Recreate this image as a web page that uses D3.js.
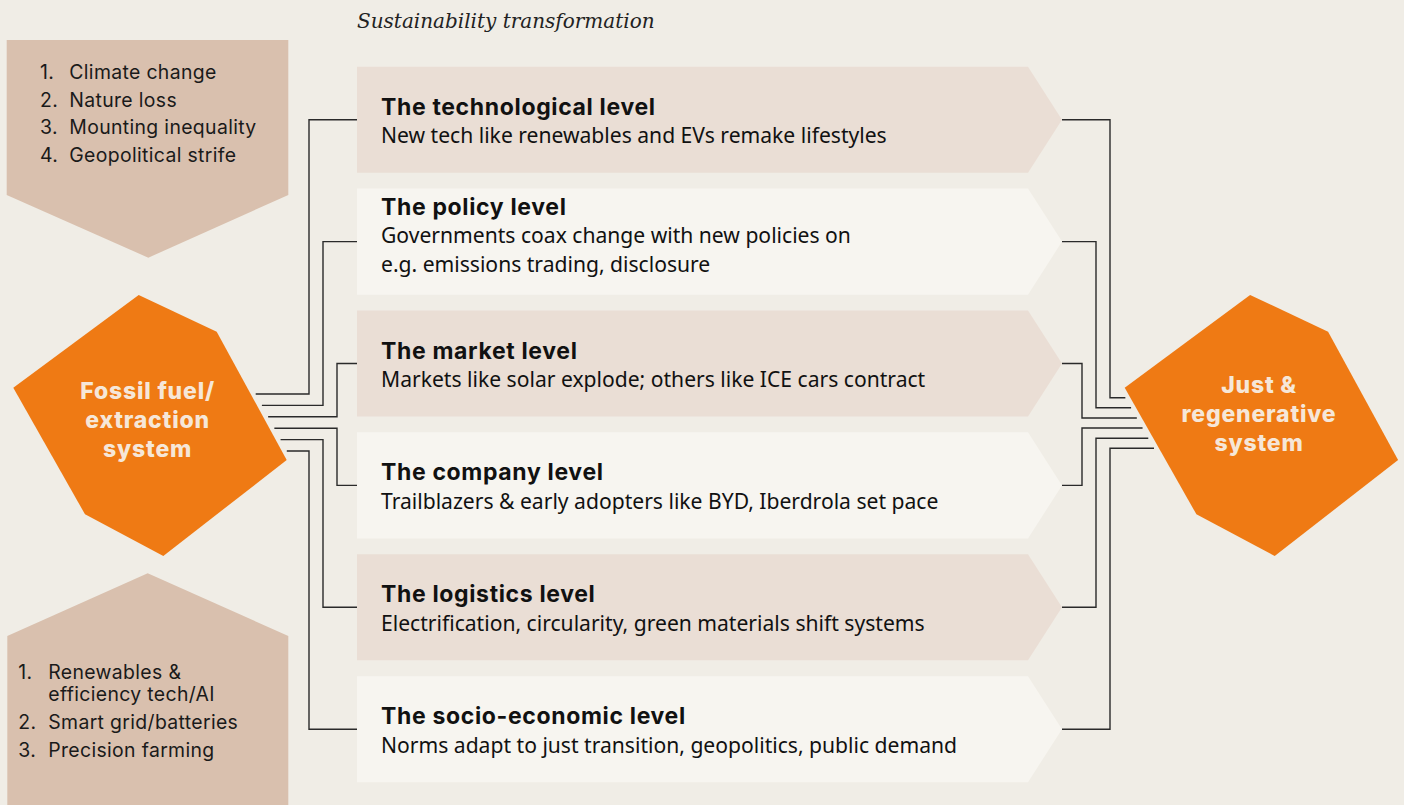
<!DOCTYPE html>
<html>
<head>
<meta charset="utf-8">
<script src="https://cdn.jsdelivr.net/npm/d3@7"></script>
<style>
  body { margin: 0; background: #f0ede6; }
  svg { display: block; }
  .lvl-title { font-family: Inter, "Noto Sans", sans-serif; font-weight: 700; font-size: 23px; letter-spacing: 0.65px; fill: #111; }
  .lvl-desc { font-family: "Noto Sans", sans-serif; font-size: 21.1px; fill: #111; }
  .list { font-family: Inter, "Noto Sans", sans-serif; font-size: 19.4px; letter-spacing: 0.35px; fill: #1a1a1a; }
  .hex-label { font-family: Inter, "Noto Sans", sans-serif; font-weight: 800; font-size: 23px; letter-spacing: 0.8px; fill: #f6e7d8; }
  .header { font-family: "DejaVu Serif", serif; font-style: italic; font-size: 20px; fill: #222; }
  .link { fill: none; stroke: #2a2a2a; stroke-width: 1.4; }
</style>
</head>
<body>
<svg id="chart"></svg>
<script>
// Levels of the transformation, top to bottom
const levels = [
  'The technological level',
  'The policy level',
  'The market level',
  'The company level',
  'The logistics level',
  'The socio-economic level'
];
const descriptions = [
  ['New tech like renewables and EVs remake lifestyles'],
  ['Governments coax change with new policies on', 'e.g. emissions trading, disclosure'],
  ['Markets like solar explode; others like ICE cars contract'],
  ['Trailblazers & early adopters like BYD, Iberdrola set pace'],
  ['Electrification, circularity, green materials shift systems'],
  ['Norms adapt to just transition, geopolitics, public demand']
];
// Pressures (top box) and enablers (bottom box)
const pressures = ['Climate change', 'Nature loss', 'Mounting inequality', 'Geopolitical strife'];
const enablers = [['Renewables &', 'efficiency tech/AI'], ['Smart grid/batteries'], ['Precision farming']];
const sourceLabel = ['Fossil fuel/', 'extraction', 'system'];
const targetLabel = ['Just &', 'regenerative', 'system'];
const headerText = 'Sustainability transformation';

const width = 1404, height = 805;
const colors = { bg: '#f0ede6', rowA: '#eaded5', rowB: '#f7f5f0', box: '#d9c0ae', orange: '#ef7a14' };

const svg = d3.select('#chart').attr('width', width).attr('height', height);
svg.append('rect').attr('width', width).attr('height', height).attr('fill', colors.bg);

// Row layout
const rowLeft = 357, rowBody = 1028, rowTip = 1062;
const y = d3.scaleBand().domain(levels).range([66.7, 782.2]).paddingInner(0.13).paddingOuter(0);
const mid = d => y(d) + y.bandwidth() / 2;

// Hexagon shape (offsets from center)
const hexPts = [[-11.9, -129.1], [66.1, -92.4], [136.1, 35.9], [12.7, 131.9], [-65.6, 90.2], [-137.3, -36.4]];
const src = { x: 150.6, y: 424.1 }, dst = { x: 1262, y: 424.1 };

// Ports where the connectors meet the hexagons
const portL = d3.scalePoint().domain(levels).range([394, 451]);
const portR = d3.scalePoint().domain(levels).range([397.7, 448.3]);
const rank = i => (i < 3 ? i : 5 - i);
const xL = i => 309 + rank(i) * 14;
const xR = i => 1110 - rank(i) * 14;
function edgeX(c, a, b, yy) {
  const p = [c.x + hexPts[a][0], c.y + hexPts[a][1]], q = [c.x + hexPts[b][0], c.y + hexPts[b][1]];
  return p[0] + (yy - p[1]) * (q[0] - p[0]) / (q[1] - p[1]);
}

// Header
svg.append('text').attr('class', 'header').attr('x', rowLeft).attr('y', 28).text(headerText);

// Top box (pointing down) and bottom box (pointing up)
svg.append('path').attr('fill', colors.box)
  .attr('d', d3.line()([[6.7, 40], [288.3, 40], [288.3, 195], [148.3, 257.7], [6.7, 195]]) + 'Z');
svg.append('path').attr('fill', colors.box)
  .attr('d', d3.line()([[147.7, 573.3], [288.3, 636], [288.3, 806], [7.3, 806], [7.3, 636]]) + 'Z');

const pList = svg.append('g').attr('class', 'list');
pressures.forEach((t, i) => {
  pList.append('text').attr('x', 40).attr('y', 79.3 + i * 27.4).text(`${i + 1}.`);
  pList.append('text').attr('x', 69.3).attr('y', 79.3 + i * 27.4).text(t);
});
const eList = svg.append('g').attr('class', 'list');
let ey = 679;
enablers.forEach((lines, i) => {
  eList.append('text').attr('x', 18.3).attr('y', ey).text(`${i + 1}.`);
  lines.forEach((t, j) => {
    eList.append('text').attr('x', 48.3).attr('y', ey + j * 21.7).text(t);
  });
  ey += (lines.length - 1) * 21.7 + 28;
});

// Connectors
const links = svg.append('g');
levels.forEach((d, i) => {
  const pl = portL(d), pr = portR(d), c = mid(d);
  const sx = edgeX(src, 1, 2, pl) + 5;
  links.append('path').attr('class', 'link')
    .attr('d', d3.line()([[sx, pl], [xL(i), pl], [xL(i), c], [rowLeft, c]]));
  const ex = edgeX(dst, 5, 4, pr) - 5;
  links.append('path').attr('class', 'link')
    .attr('d', d3.line()([[rowTip, c], [xR(i), c], [xR(i), pr], [ex, pr]]));
});

// Level rows
const rows = svg.append('g').selectAll('g').data(levels).join('g');
rows.append('path')
  .attr('fill', (d, i) => (i % 2 === 0 ? colors.rowA : colors.rowB))
  .attr('d', d => {
    const t = y(d), b = t + y.bandwidth();
    return d3.line()([[rowLeft, t], [rowBody, t], [rowTip, mid(d)], [rowBody, b], [rowLeft, b]]) + 'Z';
  });
rows.each(function (d, i) {
  const g = d3.select(this);
  const k = descriptions[i].length;
  const first = mid(d) - 5 - (k - 1) * 22;
  g.append('text').attr('class', 'lvl-title').attr('x', 381).attr('y', first).text(d);
  descriptions[i].forEach((t, j) => {
    g.append('text').attr('class', 'lvl-desc').attr('x', 381).attr('y', first + 28.6 * (j + 1)).text(t);
  });
});

// Hexagons
function hexagon(c, label, dy) {
  svg.append('path').attr('fill', colors.orange)
    .attr('d', d3.line()(hexPts.map(p => [c.x + p[0], c.y + p[1]])) + 'Z');
  label.forEach((t, i) => {
    svg.append('text').attr('class', 'hex-label').attr('text-anchor', 'middle')
      .attr('x', c.x - 3).attr('y', c.y + dy + i * 28.8).text(t);
  });
}
hexagon(src, sourceLabel, -25);
hexagon(dst, targetLabel, -31);
</script>
</body>
</html>
